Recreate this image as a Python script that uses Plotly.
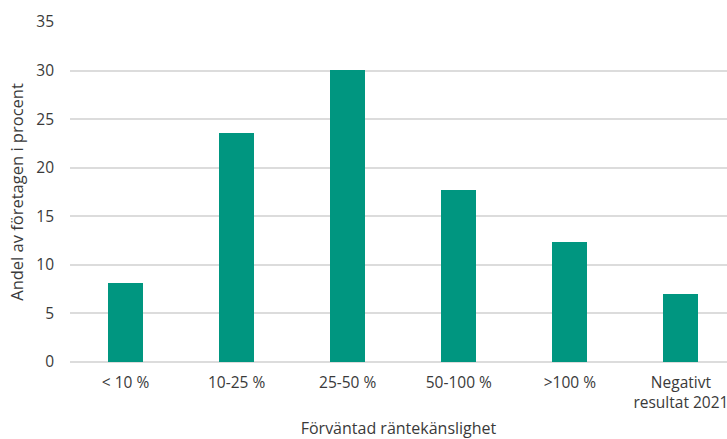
import plotly.graph_objects as go

categories = ["< 10 %", "10-25 %", "25-50 %", "50-100 %", ">100 %", "Negativt<br>resultat 2021"]
values = [8.1, 23.6, 30.1, 17.7, 12.4, 7.0]

fig = go.Figure(go.Bar(
    x=categories, y=values,
    marker=dict(color="#009680", line=dict(width=0)),
    width=0.315,
))

FONT = "Open Sans, Lato, sans-serif"
fig.update_layout(
    width=727, height=439,
    margin=dict(l=70, r=0, t=22, b=77),
    paper_bgcolor="white", plot_bgcolor="white",
    font=dict(family=FONT, size=15, color="#3a3a3a"),
    showlegend=False,
    bargap=0,
)
fig.update_xaxes(
    range=[-0.5, 5.415],
    showgrid=False, showline=False, ticks="", ticklabelstandoff=9,
    tickfont=dict(size=15.5, color="#3a3a3a"),
    title=dict(text="Förväntad räntekänslighet", font=dict(size=16, color="#3a3a3a"), standoff=14),
)
fig.update_yaxes(
    range=[0, 35], tickvals=[0, 5, 10, 15, 20, 25, 30, 35],
    showgrid=True, gridcolor="#dcdcdc", gridwidth=1.5,
    zeroline=True, zerolinecolor="#dcdcdc", zerolinewidth=1.5,
    showline=False, ticks="", ticklabelstandoff=15,
    tickfont=dict(size=15.5, color="#3a3a3a"),
    title=dict(text="Andel av företagen i procent", font=dict(size=16.5, color="#3a3a3a"), standoff=8),
)

fig.write_html("out.html")
